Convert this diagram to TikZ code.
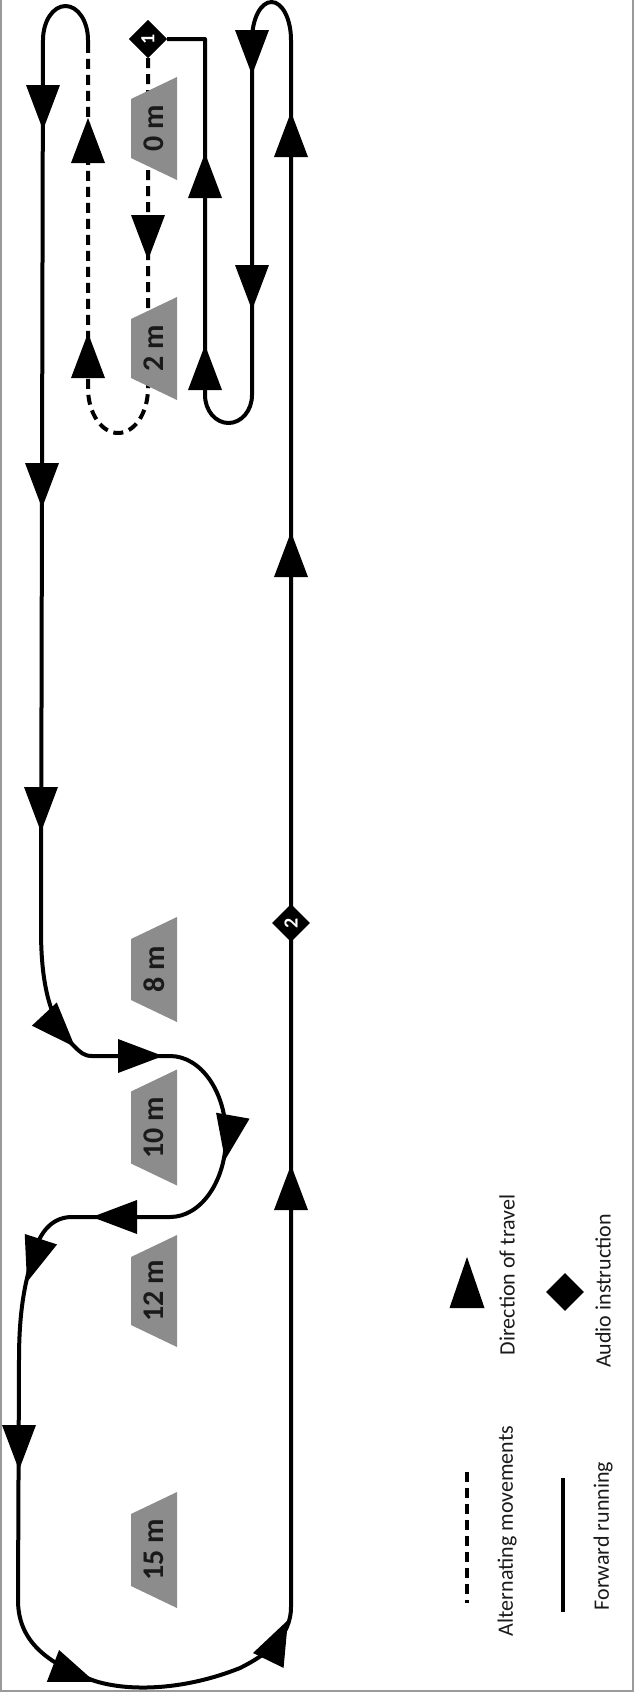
\documentclass[tikz,border=0pt]{standalone}
\usepackage{fontspec}
\setmainfont{Carlito}
\usetikzlibrary{shapes.geometric}

\definecolor{conegray}{HTML}{8C8C8C}
\definecolor{framegray}{HTML}{9A9A9A}
\definecolor{ink}{HTML}{1A1A1A}

% filled travel-direction head: tip at (#1,#2), pointing along angle #3
\newcommand\travelhead[3]{%
  \fill[shift={(#1,#2)},rotate=#3] (0,0) -- (-45,17) -- (-45,-17) -- cycle;}

% cone marker: node name, centre y, half length of the wide side, distance text
\newcommand\conemark[4]{%
  \fill[conegray] (177,#2-#3) -- (177,#2+#3) -- (131,#2+#3-22) -- (131,#2-#3+22) -- cycle;
  \node[conetext] (#1) at (154,#2) {#4};}

\begin{document}
\begin{tikzpicture}[x=1pt,y=-1pt,
  route/.style={line width=4pt, line join=round},
  alt/.style={route, dash pattern=on 10pt off 6pt},
  conetext/.style={rotate=90, text=ink, inner sep=0pt,
    font=\fontsize{30}{31}\selectfont\bfseries},
  cue/.style={diamond, fill=black, inner sep=0pt, minimum size=38pt,
    text=white, font=\fontsize{20}{20}\selectfont\bfseries, rotate=90},
  legendtext/.style={rotate=90, text=ink, inner sep=0pt,
    font=\fontsize{22}{24}\selectfont}]

\useasboundingbox (0,0) rectangle (634,1692);
\draw[framegray, line width=1.5pt] (0.75,0) -- (0.75,1691.2) -- (633.2,1691.2) -- (633.2,0);

% audio cue at the start
\node[cue] (cue1) at (148,39) {1};

% route waypoints
\coordinate (bTop) at (88,52);
\coordinate (bLow) at (88,388);
\coordinate (cLow) at (148,388);
\coordinate (aTop) at (43,40);
\coordinate (aMid) at (41,930);
\coordinate (sIn) at (92,1056);
\coordinate (sTurn) at (170,1056);
\coordinate (sBack) at (170,1217);
\coordinate (sOut) at (72,1217);
\coordinate (aLow) at (18,1600);
\coordinate (fLow) at (291,1607);
\coordinate (fTop) at (291,40);
\coordinate (eTop) at (252,40);
\coordinate (eLow) at (252,395);
\coordinate (dLow) at (205,395);
\coordinate (dTop) at (205,39);

% forward running
\draw[route] (bTop) -- (88,40) .. controls (88,21.2) and (77.9,6) .. (65.5,6)
  .. controls (53.1,6) and (43,21.2) .. (aTop) -- (aMid)
  .. controls (41,990) and (52,1025) .. (75,1047)
  .. controls (80,1052) and (84,1056) .. (sIn) -- (sTurn)
  .. controls (201,1056) and (226,1092) .. (226,1136.5)
  .. controls (226,1181) and (201,1217) .. (sBack) -- (sOut)
  .. controls (55,1217) and (42,1228) .. (35,1250)
  .. controls (25,1280) and (19,1310) .. (19,1360) -- (aLow)
  .. controls (18,1640) and (45,1663) .. (95,1681)
  .. controls (130,1692) and (185,1690) .. (240,1668)
  .. controls (270,1653) and (291,1635) .. (fLow) -- (fTop)
  .. controls (291,19) and (282.3,2) .. (271.5,2)
  .. controls (260.7,2) and (252,19) .. (eTop) -- (eLow)
  .. controls (252,410.5) and (241.5,423) .. (228.5,423)
  .. controls (215.5,423) and (205,410.5) .. (dLow) -- (dTop) -- (cue1);

% alternating movements
\draw[alt] (cue1) -- (cLow) .. controls (148,413) and (134.6,433) .. (118,433)
  .. controls (101.4,433) and (88,413) .. (bLow) -- (bTop);

% cones with their distances, laid over the lanes
\conemark{m0}{128.5}{51.5}{0 m}
\conemark{m2}{348.5}{51.5}{2 m}
\conemark{m8}{969.5}{52.5}{8 m}
\conemark{m10}{1127.5}{58}{10 m}
\conemark{m12}{1291}{56}{12 m}
\conemark{m15}{1550}{58}{15 m}

\node[cue] at (cue1) {1};
\node[cue] (cue2) at (291,923) {2};

% direction of travel
\travelhead{43}{130}{-90}
\travelhead{42}{508}{-90}
\travelhead{41}{832}{-90}
\travelhead{75}{1047}{-47}
\travelhead{163}{1056}{0}
\travelhead{225}{1160}{-100}
\travelhead{92}{1217}{180}
\travelhead{27}{1282}{-108}
\travelhead{19}{1470}{-90}
\travelhead{95}{1682}{-21}
\travelhead{288}{1620}{64}
\travelhead{291}{1165}{90}
\travelhead{291}{532}{90}
\travelhead{291}{112}{90}
\travelhead{252}{75}{-90}
\travelhead{252}{310}{-90}
\travelhead{205}{153}{90}
\travelhead{205}{345}{90}
\travelhead{148}{260}{-90}
\travelhead{88}{118}{90}
\travelhead{88}{333}{90}

% legend
\fill[shift={(467,1257)},rotate=90] (0,0) -- (-51,17.5) -- (-51,-17.5) -- cycle;
\node[cue] (legcue) at (565,1292) {};
\coordinate (altA) at (467,1472);
\coordinate (altB) at (467,1603);
\coordinate (runA) at (563,1478);
\coordinate (runB) at (563,1612);
\draw[alt] (altA) -- (altB);
\draw[route] (runA) -- (runB);
\node[legendtext] (ldir) at (507,1275) {Direction of travel};
\node[legendtext] (laud) at (603,1291) {Audio instruction};
\node[legendtext] (lalt) at (507,1531) {Alternating movements};
\node[legendtext] (lrun) at (603,1536) {Forward running};
\end{tikzpicture}
\end{document}
